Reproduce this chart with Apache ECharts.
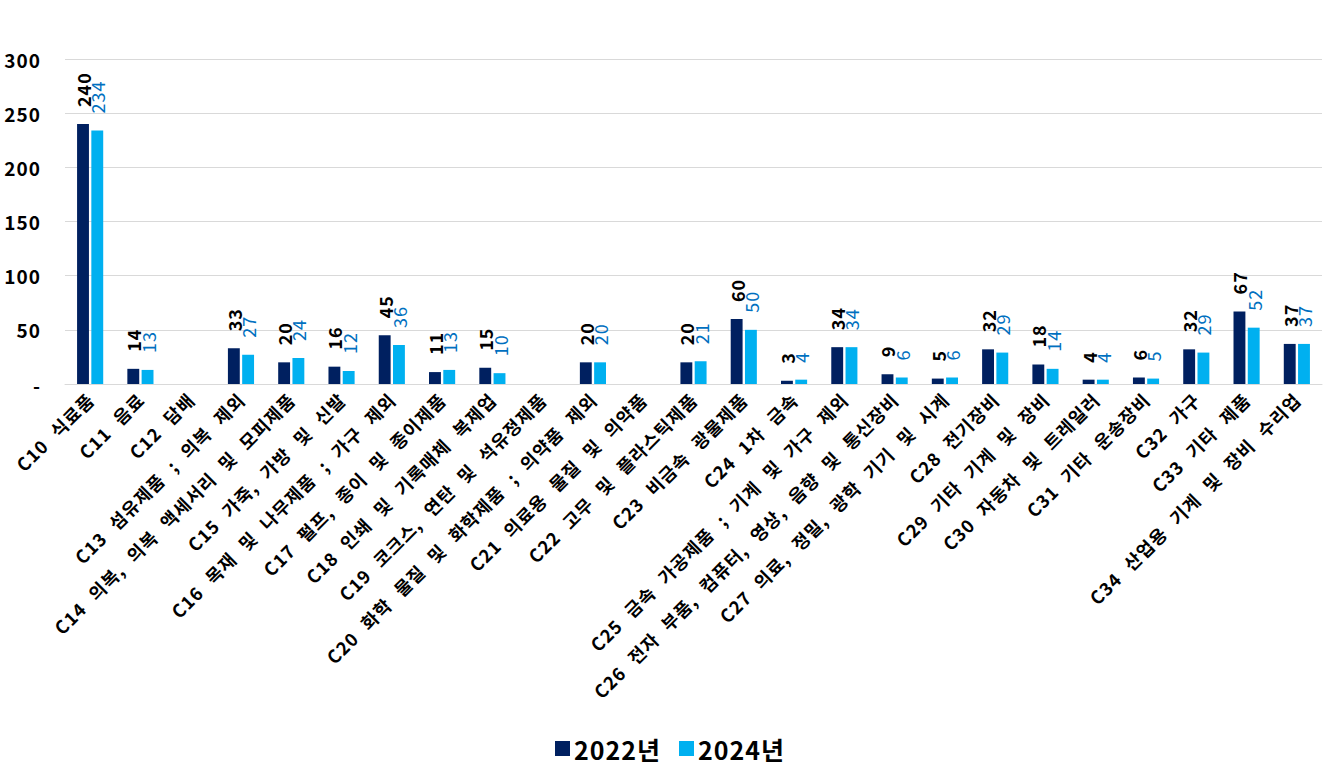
<!DOCTYPE html>
<html><head><meta charset="utf-8">
<script src="https://cdn.jsdelivr.net/npm/echarts@6/dist/echarts.min.js"></script>
<style>html,body{margin:0;padding:0;background:#fff}#c{width:1335px;height:771px}
#c text{word-spacing:7px;letter-spacing:1px}
</style>
</head><body><div id="c"></div>
<script>
const categories = [
  'C10 식료품','C11 음료','C12 담배','C13 섬유제품 ; 의복 제외','C14 의복, 의복 액세서리 및 모피제품',
  'C15 가죽, 가방 및 신발','C16 목재 및 나무제품 ; 가구 제외','C17 펄프, 종이 및 종이제품','C18 인쇄 및 기록매체 복제업',
  'C19 코크스, 연탄 및 석유정제품','C20 화학 물질 및 화학제품 ; 의약품 제외','C21 의료용 물질 및 의약품',
  'C22 고무 및 플라스틱제품','C23 비금속 광물제품','C24 1차 금속','C25 금속 가공제품 ; 기계 및 가구 제외',
  'C26 전자 부품, 컴퓨터, 영상, 음향 및 통신장비','C27 의료, 정밀, 광학 기기 및 시계','C28 전기장비',
  'C29 기타 기계 및 장비','C30 자동차 및 트레일러','C31 기타 운송장비','C32 가구','C33 기타 제품','C34 산업용 기계 및 장비 수리업'
];
const series2022 = [240,14,null,33,20,16,45,11,15,null,20,null,20,60,3,34,9,5,32,18,4,6,32,67,37];
const series2024 = [234,13,null,27,24,12,36,13,10,null,20,null,21,50,4,34,6,6,29,14,4,5,29,52,37];
const seriesNames = ['2022년','2024년'];
const yTicks = {min:0,max:300,interval:50};

const font = '"Noto Sans CJK KR","Noto Sans",sans-serif';
const chart = echarts.init(document.getElementById('c'), null, {renderer:'svg'});
chart.setOption({
  animation:false,
  textStyle:{fontFamily:font},
  grid:{left:65,right:13,top:59,bottom:387,containLabel:false},
  legend:{bottom:5,left:'center',itemWidth:15,itemHeight:15,itemGap:23,icon:'rect',
    textStyle:{fontFamily:font,fontSize:25,fontWeight:'bold',color:'#000',padding:[0,0,0,-1]},data:seriesNames},
  xAxis:{type:'category',data:categories,
    axisLine:{lineStyle:{color:'#d9d9d9'}},axisTick:{show:false},
    axisLabel:{interval:0,rotate:45,fontFamily:font,fontSize:18,fontWeight:'bold',color:'#000',margin:12}},
  yAxis:{type:'value',min:yTicks.min,max:yTicks.max,interval:yTicks.interval,
    axisLine:{show:false},axisTick:{show:false},
    splitLine:{lineStyle:{color:'#d9d9d9'}},
    axisLabel:{fontFamily:font,fontSize:19,fontWeight:'bold',color:'#000',margin:24,
      formatter:v=>v===0?'-':String(v)}},
  series:[
    {name:seriesNames[0],type:'bar',data:series2022,barGap:'20%',barCategoryGap:'48%',
     itemStyle:{color:'#002060'},
     label:{show:true,position:'top',rotate:90,align:'left',verticalAlign:'middle',distance:17,
       fontFamily:font,fontSize:18,fontWeight:'bold',color:'#000'}},
    {name:seriesNames[1],type:'bar',data:series2024,
     itemStyle:{color:'#00B0F0'},
     label:{show:true,position:'top',rotate:90,align:'left',verticalAlign:'middle',distance:17,
       fontFamily:font,fontSize:18,color:'#0070C0'}}
  ]
});
</script></body></html>
